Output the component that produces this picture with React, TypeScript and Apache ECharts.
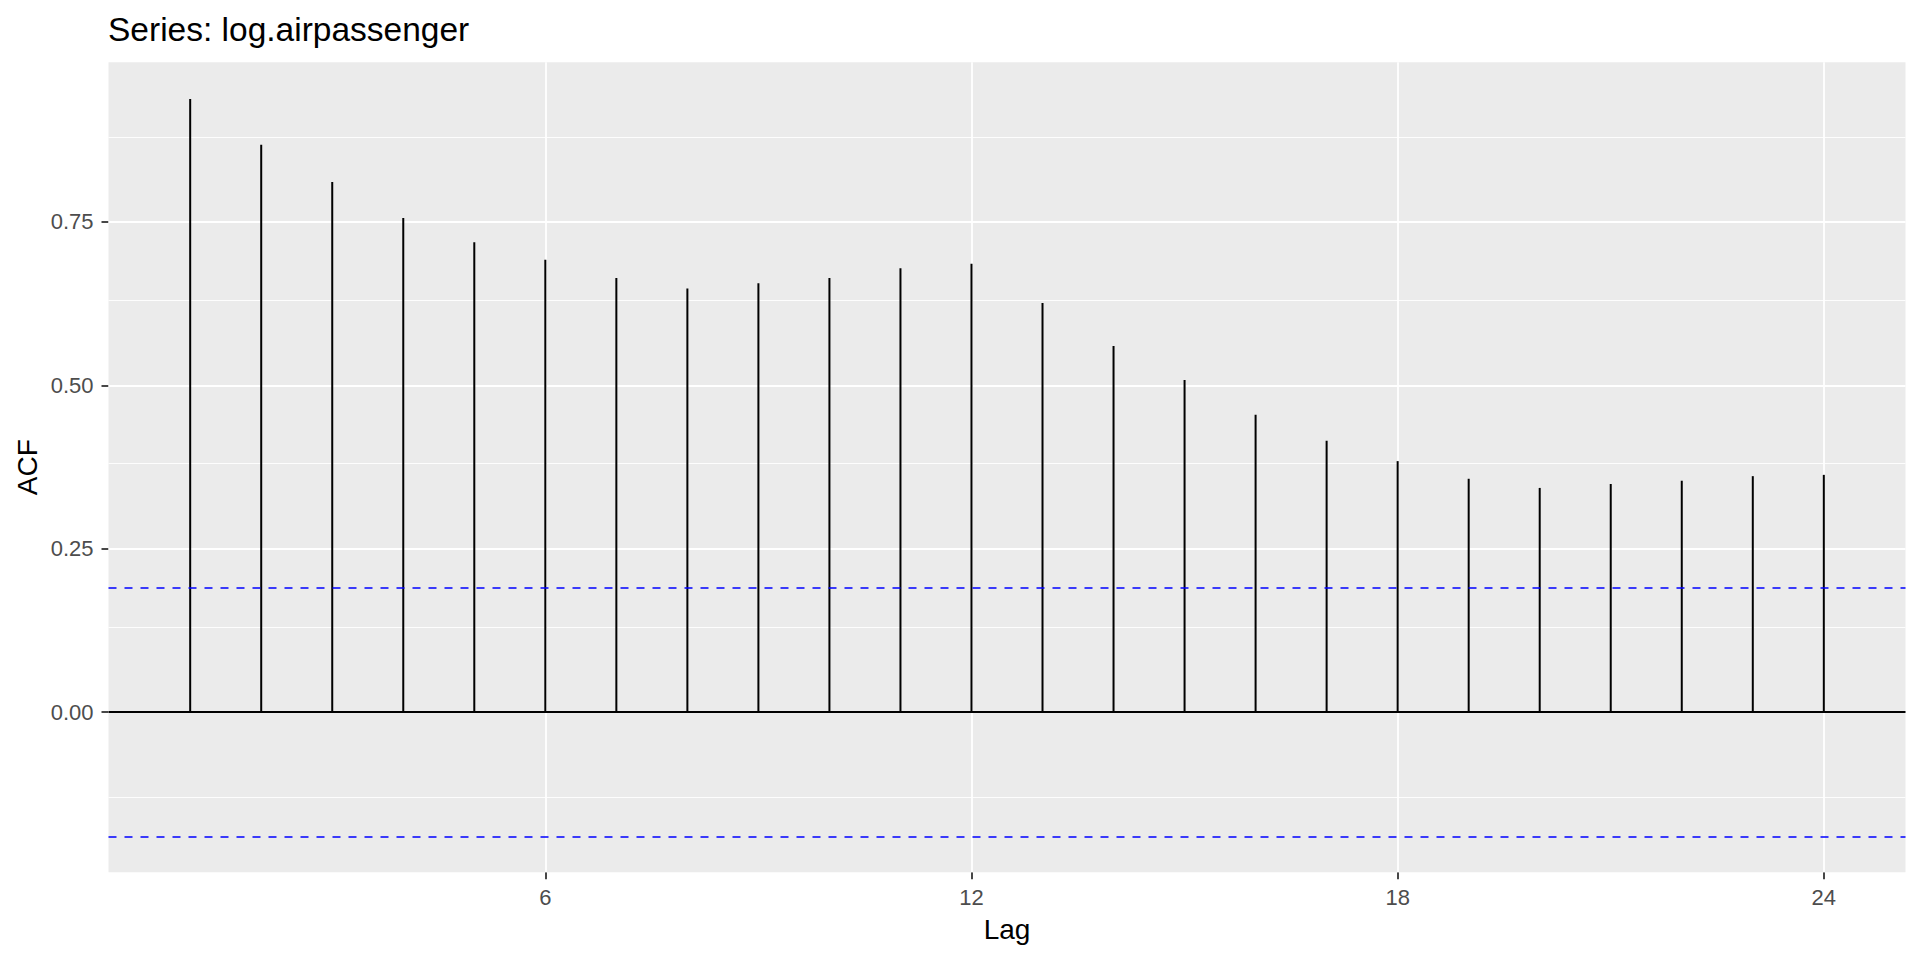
import React, { useEffect, useRef } from "react";
import * as echarts from "echarts";

const chartTitle = "Series: log.airpassenger";
const xAxisTitle = "Lag";
const yAxisTitle = "ACF";
const lags = [1, 2, 3, 4, 5, 6, 7, 8, 9, 10, 11, 12, 13, 14, 15, 16, 17, 18, 19, 20, 21, 22, 23, 24];
const acfValues = [
  0.938, 0.868, 0.811, 0.756, 0.719, 0.692, 0.664, 0.648, 0.656, 0.664, 0.679, 0.686,
  0.626, 0.56, 0.508, 0.455, 0.415, 0.384, 0.357, 0.343, 0.349, 0.354, 0.361, 0.363,
];
const ciLimit = 0.1886;
const xTickValues = [6, 12, 18, 24];
const xTickLabels = ["6", "12", "18", "24"];
const yTickValues = [0, 0.25, 0.5, 0.75];
const yTickLabels = ["0.00", "0.25", "0.50", "0.75"];
const yMinorGridValues = [-0.125, 0.125, 0.375, 0.625, 0.875];
const xRange = [-0.15, 25.15];
const yRange = [-0.2449, 0.9943];

export default function App() {
  const ref = useRef<HTMLDivElement>(null);
  useEffect(() => {
    if (!ref.current) return;
    const chart = echarts.init(ref.current, null, { renderer: "svg" });
    const font = "'Liberation Sans', Arial, sans-serif";
    const gridLeft = 108.5;
    const gridRight = 14.5;
    const gridTop = 62.2;
    const gridBottom = 87.8;
    const panelCenterX = gridLeft + (1920 - gridLeft - gridRight) / 2;
    const panelCenterY = gridTop + (960 - gridTop - gridBottom) / 2;

    const gridLines: any[] = [];
    yMinorGridValues.forEach((v) =>
      gridLines.push({ yAxis: v, lineStyle: { color: "#FFFFFF", width: 0.9, type: "solid" } })
    );
    yTickValues.forEach((v) =>
      gridLines.push({ yAxis: v, lineStyle: { color: "#FFFFFF", width: 1.8, type: "solid" } })
    );
    xTickValues.forEach((v) =>
      gridLines.push({ xAxis: v, lineStyle: { color: "#FFFFFF", width: 1.8, type: "solid" } })
    );

    const refLines: any[] = [
      { yAxis: 0, lineStyle: { color: "#000000", width: 1.8, type: "solid" } },
      { yAxis: ciLimit, lineStyle: { color: "#0000FF", width: 1.6, type: [8, 8] } },
      { yAxis: -ciLimit, lineStyle: { color: "#0000FF", width: 1.6, type: [8, 8] } },
    ];

    const option: any = {
      animation: false,
      backgroundColor: "#FFFFFF",
      grid: {
        left: gridLeft,
        right: gridRight,
        top: gridTop,
        bottom: gridBottom,
        show: true,
        backgroundColor: "#EBEBEB",
        borderWidth: 0,
        containLabel: false,
      },
      xAxis: {
        type: "value",
        min: xRange[0],
        max: xRange[1],
        axisLine: { show: false, onZero: false },
        splitLine: { show: false },
        axisTick: {
          show: true,
          length: 7,
          customValues: xTickValues,
          lineStyle: { color: "#333333", width: 1.8 },
        },
        axisLabel: {
          show: true,
          customValues: xTickValues,
          interval: 0,
          hideOverlap: false,
          showMinLabel: true,
          showMaxLabel: true,
          margin: 14,
          color: "#4D4D4D",
          fontSize: 22,
          fontFamily: font,
          formatter: (v: number) => {
            const i = xTickValues.findIndex((t) => Math.abs(t - v) < 1e-9);
            return i >= 0 ? xTickLabels[i] : "";
          },
        },
      },
      yAxis: {
        type: "value",
        min: yRange[0],
        max: yRange[1],
        axisLine: { show: false, onZero: false },
        splitLine: { show: false },
        axisTick: {
          show: true,
          length: 7,
          customValues: yTickValues,
          lineStyle: { color: "#333333", width: 1.8 },
        },
        axisLabel: {
          show: true,
          customValues: yTickValues,
          interval: 0,
          hideOverlap: false,
          margin: 15,
          color: "#4D4D4D",
          fontSize: 22,
          fontFamily: font,
          formatter: (v: number) => {
            const i = yTickValues.findIndex((t) => Math.abs(t - v) < 1e-9);
            return i >= 0 ? yTickLabels[i] : "";
          },
        },
      },
      graphic: [
        {
          type: "text",
          x: 108,
          y: 29,
          style: {
            text: chartTitle,
            fontSize: 33.5,
            fontFamily: font,
            fill: "#000000",
            align: "left",
            verticalAlign: "middle",
          },
        },
        {
          type: "text",
          x: panelCenterX,
          y: 929,
          style: {
            text: xAxisTitle,
            fontSize: 28,
            fontFamily: font,
            fill: "#000000",
            align: "center",
            verticalAlign: "middle",
          },
        },
        {
          type: "text",
          x: 27,
          y: panelCenterY,
          rotation: Math.PI / 2,
          style: {
            text: yAxisTitle,
            fontSize: 28,
            fontFamily: font,
            fill: "#000000",
            align: "center",
            verticalAlign: "middle",
          },
        },
      ],
      series: [
        {
          type: "line",
          data: [],
          z: 1,
          silent: true,
          markLine: {
            silent: true,
            z: 1,
            symbol: "none",
            label: { show: false },
            emphasis: { disabled: true },
            data: gridLines,
          },
        },
        {
          type: "bar",
          data: lags.map((l, i) => [l, acfValues[i]]),
          barWidth: 2,
          z: 3,
          silent: true,
          itemStyle: { color: "#000000" },
        },
        {
          type: "line",
          data: [],
          z: 4,
          silent: true,
          markLine: {
            silent: true,
            z: 4,
            symbol: "none",
            label: { show: false },
            emphasis: { disabled: true },
            data: refLines,
          },
        },
      ],
    };
    chart.setOption(option);
    return () => chart.dispose();
  }, []);
  return (
    <div
      ref={ref}
      style={{ position: "fixed", left: 0, top: 0, width: 1920, height: 960, background: "#FFFFFF" }}
    />
  );
}
